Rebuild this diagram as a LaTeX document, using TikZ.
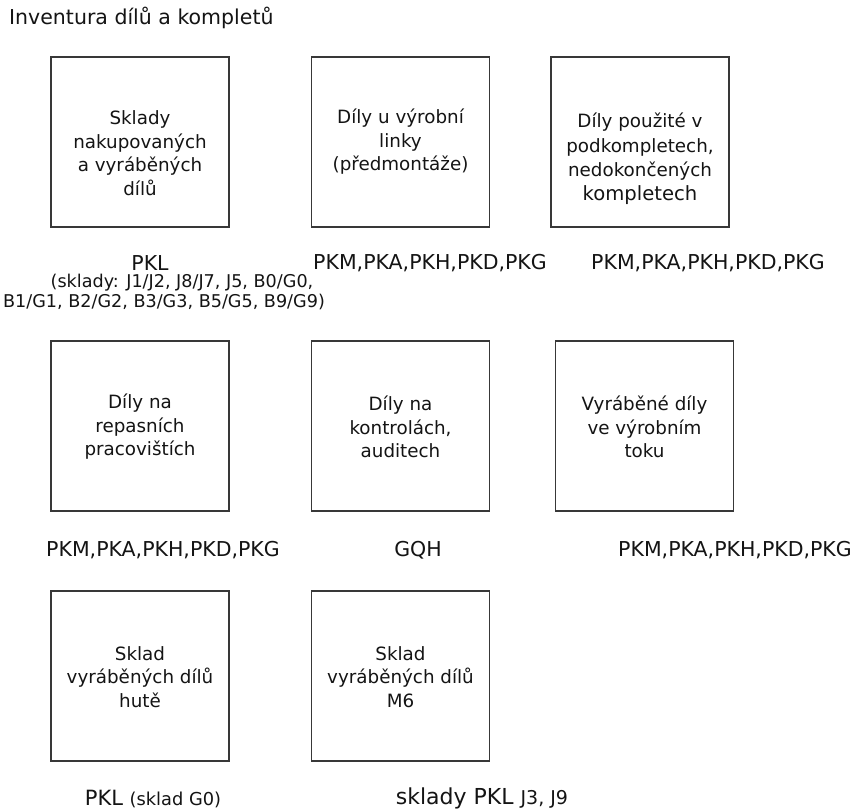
\documentclass[tikz,border=0pt]{standalone}
\usepackage{fontspec}
\setmainfont{DejaVu Sans}
\begin{document}
\begin{tikzpicture}[x=1pt,y=-1pt,
  box/.style={draw=black!78, line width=1.2pt, minimum width=178pt, minimum height=170pt, inner sep=0pt},
  boxtext/.style={align=center, text=black!92, inner sep=0pt, font=\fontsize{18.3}{23.5}\selectfont},
  code/.style={text=black!92, inner sep=0pt, font=\fontsize{20.5}{24}\selectfont},
  note/.style={text=black!92, inner sep=0pt, font=\fontsize{17.6}{20}\selectfont}]
\useasboundingbox[fill=white] (0,0) rectangle (856,811);

% title
\node[code, anchor=west] (title) at (9,18) {Inventura dílů a kompletů};

% first row
\node[box] (b11) at (140,142) {};
\node[box] (b12) at (400.5,142) {};
\node[box] (b13) at (640,142) {};
\node[boxtext] (t11) at (140,153) {Sklady\\nakupovaných\\a vyráběných\\dílů};
\node[boxtext] (t12) at (400.5,142) {Díly u výrobní\\linky\\(předmontáže)};
\node[boxtext, font=\fontsize{18.3}{24.3}\selectfont] (t13) at (640,159)
  {Díly použité v\\podkompletech,\\nedokončených\\{\fontsize{19.6}{24.3}\selectfont kompletech}};

\node[code] (l11) at (150,263) {PKL};
\node[note] (l11a) at (182,283) {(sklady: J1/J2, J8/J7, J5, B0/G0,};
\node[note] (l11b) at (164,302) {B1/G1, B2/G2, B3/G3, B5/G5, B9/G9)};
\node[code] (l12) at (430,263) {PKM,PKA,PKH,PKD,PKG};
\node[code] (l13) at (708,263) {PKM,PKA,PKH,PKD,PKG};

% second row
\node[box] (b21) at (140,426) {};
\node[box] (b22) at (400.5,426) {};
\node[box] (b23) at (644.5,426) {};
\node[boxtext] (t21) at (140,427) {Díly na\\repasních\\pracovištích};
\node[boxtext] (t22) at (400.5,427) {Díly na\\kontrolách,\\auditech};
\node[boxtext] (t23) at (644.5,427) {Vyráběné díly\\ve výrobním\\toku};

\node[code] (l21) at (163,550) {PKM,PKA,PKH,PKD,PKG};
\node[code] (l22) at (418,550) {GQH};
\node[code] (l23) at (735,550) {PKM,PKA,PKH,PKD,PKG};

% third row
\node[box] (b31) at (140,676) {};
\node[box] (b32) at (400.5,676) {};
\node[boxtext] (t31) at (140,677) {Sklad\\vyráběných dílů\\hutě};
\node[boxtext] (t32) at (400.5,677) {Sklad\\vyráběných dílů\\M6};

\node[code, font=\fontsize{21}{24}\selectfont] (l31) at (153,799)
  {PKL {\fontsize{17.8}{20}\selectfont(sklad G0)}};
\node[code, font=\fontsize{22}{26}\selectfont] (l32) at (482,798)
  {sklady PKL {\fontsize{19}{20}\selectfont J3, J9}};
\end{tikzpicture}
\end{document}
